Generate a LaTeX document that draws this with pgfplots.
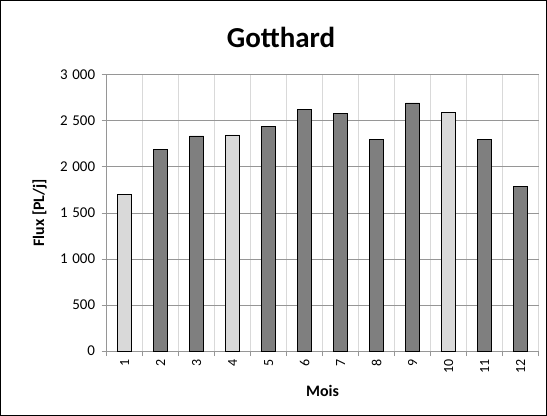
\documentclass[border=0pt]{standalone}
\usepackage{pgfplots}
\pgfplotsset{compat=1.18}
\usepackage{fontspec}
\setmainfont{Carlito}
\definecolor{lightbar}{HTML}{D9D9D9}
\definecolor{darkbar}{HTML}{7F7F7F}
\definecolor{hgrid}{HTML}{969696}
\definecolor{vgrid}{HTML}{D9D9D9}
\begin{document}
\begin{tikzpicture}[x=1bp,y=1bp]
\draw[black, line width=0.8bp] (-106,-64) rectangle (439,350);
\begin{axis}[
  at={(0,0)}, anchor=south west,
  scale only axis, width=431bp, height=276bp,
  xmin=0.5, xmax=12.5, ymin=0, ymax=3000,
  xtick={1,...,12}, major x tick style={draw=none},
  minor xtick={0.5,1.5,...,12.5},
  x tick label style={rotate=90, anchor=east, font=\fontsize{14}{16}\selectfont},
  y tick label style={font=\fontsize{15}{17}\selectfont, xshift=-3bp},
  ytick={0,500,...,3000},
  /pgf/number format/.cd, 1000 sep={\hspace{0.3em}}, assume math mode=true, /pgfplots/.cd,
  ymajorgrids, xminorgrids,
  major y grid style={hgrid, line width=0.7bp},
  minor x grid style={vgrid, line width=0.7bp},
  axis line style={hgrid, line width=0.7bp},
  axis x line*=bottom, axis y line*=left,
  tick align=outside, minor tick length=5bp, major tick length=5bp,
  every tick/.style={hgrid, line width=0.7bp},
  ylabel={\textbf{Flux [PL/j]}}, ylabel style={font=\fontsize{16}{18}\selectfont, at={(axis description cs:-0.155,0.5)}, anchor=center},
  xlabel={\textbf{Mois}}, xlabel style={font=\fontsize{16}{18}\selectfont, at={(axis description cs:0.5,-0.145)}, anchor=center},
  ybar, bar width=14bp,
  clip=false,
]
\addplot[fill=lightbar, draw=black, line width=0.7bp, bar shift=0pt] coordinates {(1,1700) (4,2345) (10,2587)};
\addplot[fill=darkbar, draw=black, line width=0.7bp, bar shift=0pt] coordinates {(2,2189) (3,2334) (5,2435) (6,2624) (7,2580) (8,2298) (9,2692) (11,2298) (12,1783)};
\end{axis}
\node[font=\fontsize{29}{33}\selectfont\bfseries] at (174,313) {Gotthard};
\end{tikzpicture}
\end{document}
